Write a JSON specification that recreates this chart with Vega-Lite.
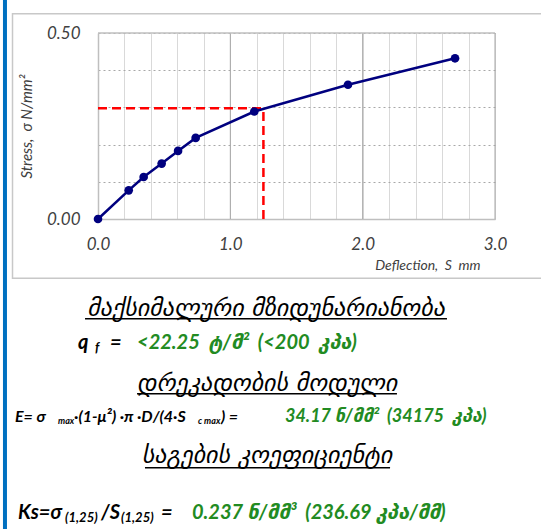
{
  "$schema": "https://vega.github.io/schema/vega-lite/v6.json",
  "width": 397,
  "height": 186,
  "autosize": {"type": "none"},
  "padding": {"left": 98, "top": 33, "right": 46, "bottom": 310},
  "background": "white",
  "config": {"view": {"stroke": null}, "font": "Lato"},
  "resolve": {"axis": {"x": "independent", "y": "independent"}},
  "datasets": {
    "curve": [
      {"deflection": 0, "stress": 0},
      {"deflection": 0.232, "stress": 0.077},
      {"deflection": 0.345, "stress": 0.113},
      {"deflection": 0.481, "stress": 0.149},
      {"deflection": 0.605, "stress": 0.183},
      {"deflection": 0.738, "stress": 0.218},
      {"deflection": 1.181, "stress": 0.289},
      {"deflection": 1.889, "stress": 0.361},
      {"deflection": 2.698, "stress": 0.432}
    ],
    "guides": [
      {"gx": 0, "gx2": 1.25, "gy": 0.298, "gy2": 0.298},
      {"gx": 1.25, "gx2": 1.25, "gy": 0, "gy2": 0.298}
    ],
    "majors": [{"mx": 1}, {"mx": 2}, {"mx": 3}],
    "tops": [{"my": 0.5}],
    "frame": [{"fx": -0.646, "fx2": 3.378, "fy": 0.552, "fy2": -0.159}],
    "edge": [{"ex": -0.703, "ey": 0.589, "ey2": -0.833}],
    "underlines": [
      {"ux": -0.098, "ux2": 2.637, "uy": -0.268},
      {"ux": 0.295, "ux2": 2.259, "uy": -0.47},
      {"ux": 0.355, "ux2": 2.207, "uy": -0.669}
    ],
    "texts": [
      {"role": "heading", "tx": 1.27, "ty": -0.241, "txt": "მაქსიმალური მზიდუნარიანობა"},
      {"role": "heading", "tx": 1.277, "ty": -0.443, "txt": "დრეკადობის მოდული"},
      {"role": "heading", "tx": 1.277, "ty": -0.636, "txt": "საგების კოეფიციენტი"},
      {"role": "black", "tx": -0.151, "ty": -0.333, "txt": "q"},
      {"role": "blacksub", "tx": -0.023, "ty": -0.346, "txt": "f"},
      {"role": "black", "tx": 0.091, "ty": -0.333, "txt": "="},
      {"role": "green", "tx": 0.295, "ty": -0.333, "txt": "<22.25\u00a0 ტ/მ²\u00a0 (<200\u00a0 კპა)"},
      {"role": "blacksmall", "tx": -0.627, "ty": -0.532, "txt": "E= σ"},
      {"role": "tinysub", "tx": -0.302, "ty": -0.543, "txt": "max"},
      {"role": "blacksmall", "tx": -0.181, "ty": -0.532, "txt": "·(1-μ²) ·π ·D/(4·S"},
      {"role": "tinysub", "tx": 0.756, "ty": -0.543, "txt": "c max"},
      {"role": "blacksmall", "tx": 0.929, "ty": -0.532, "txt": ") ="},
      {"role": "greensmall", "tx": 1.413, "ty": -0.532, "txt": "34.17 ნ/მმ²\u00a0 (34175\u00a0 კპა)"},
      {"role": "black", "tx": -0.605, "ty": -0.79, "txt": "Ks=σ"},
      {"role": "ksub", "tx": -0.249, "ty": -0.804, "txt": "(1,25)"},
      {"role": "black", "tx": 0.023, "ty": -0.79, "txt": "/S"},
      {"role": "ksub", "tx": 0.174, "ty": -0.804, "txt": "(1,25)"},
      {"role": "black", "tx": 0.476, "ty": -0.79, "txt": "="},
      {"role": "green", "tx": 0.71, "ty": -0.79, "txt": "0.237 ნ/მმ³\u00a0 (236.69 კპა/მმ)"}
    ]
  },
  "layer": [
    {
      "data": {"name": "frame"},
      "mark": {"type": "rect", "filled": false, "stroke": "#c8c8c8", "strokeWidth": 1.5},
      "encoding": {
        "x": {
          "field": "fx", "type": "quantitative",
          "scale": {"domain": [0, 3], "nice": false},
          "axis": {
            "title": "Deflection,\u00a0 S\u00a0 mm",
            "values": [0, 0.2, 0.4, 0.6, 0.8, 1, 1.2, 1.4, 1.6, 1.8, 2, 2.2, 2.4, 2.6, 2.8, 3],
            "labelExpr": "datum.value % 1 === 0 ? format(datum.value, '.1f') : ''",
            "labelOverlap": false,
            "labelFlush": false,
            "ticks": false,
            "domainColor": "#bfbfbf",
            "domainWidth": 1.5,
            "gridColor": "#d9d9d9",
            "gridWidth": 1,
            "labelFont": "Lato",
            "labelFontStyle": "italic",
            "labelFontSize": 17,
            "labelColor": "#404040",
            "labelPadding": 17,
            "titleFont": "Lato",
            "titleFontStyle": "italic",
            "titleFontWeight": "normal",
            "titleFontSize": 14,
            "titleColor": "#404040",
            "titleAnchor": "end",
            "titleAlign": "right",
            "titleX": 382,
            "titlePadding": 6
          }
        },
        "x2": {"field": "fx2"},
        "y": {
          "field": "fy", "type": "quantitative",
          "scale": {"domain": [0, 0.5], "nice": false},
          "axis": {
            "title": "Stress,\u00a0 σ N/mm²",
            "values": [0, 0.1, 0.2, 0.3, 0.4, 0.5],
            "labelExpr": "datum.value === 0 || datum.value === 0.5 ? format(datum.value, '.2f') : ''",
            "labelOverlap": false,
            "labelFlush": false,
            "ticks": false,
            "domainColor": "#bfbfbf",
            "domainWidth": 1.5,
            "gridColor": "#a8a8a8",
            "gridDash": [2, 3],
            "labelFont": "Lato",
            "labelFontStyle": "italic",
            "labelFontSize": 17,
            "labelColor": "#404040",
            "labelPadding": 18,
            "titleFont": "Lato",
            "titleFontStyle": "italic",
            "titleFontWeight": "normal",
            "titleFontSize": 15,
            "titleColor": "#404040",
            "titlePadding": 12
          }
        },
        "y2": {"field": "fy2"}
      }
    },
    {
      "data": {"name": "majors"},
      "mark": {"type": "rule", "color": "#a6a6a6", "strokeWidth": 1},
      "encoding": {
        "x": {"field": "mx", "type": "quantitative", "scale": {"domain": [0, 3], "nice": false}, "axis": null}
      }
    },
    {
      "data": {"name": "tops"},
      "mark": {"type": "rule", "color": "#bfbfbf", "strokeWidth": 1.5},
      "encoding": {
        "y": {"field": "my", "type": "quantitative", "scale": {"domain": [0, 0.5], "nice": false}, "axis": null}
      }
    },
    {
      "data": {"name": "edge"},
      "mark": {"type": "rule", "color": "#0070c0", "strokeWidth": 4},
      "encoding": {
        "x": {"field": "ex", "type": "quantitative", "scale": {"domain": [0, 3], "nice": false}, "axis": null},
        "y": {"field": "ey", "type": "quantitative", "scale": {"domain": [0, 0.5], "nice": false}, "axis": null},
        "y2": {"field": "ey2"}
      }
    },
    {
      "data": {"name": "guides"},
      "mark": {"type": "rule", "color": "#ff0000", "strokeWidth": 2.5, "strokeDash": [9, 5]},
      "encoding": {
        "x": {"field": "gx", "type": "quantitative", "scale": {"domain": [0, 3], "nice": false}, "axis": null},
        "x2": {"field": "gx2"},
        "y": {"field": "gy", "type": "quantitative", "scale": {"domain": [0, 0.5], "nice": false}, "axis": null},
        "y2": {"field": "gy2"}
      }
    },
    {
      "data": {"name": "curve"},
      "mark": {"type": "line", "color": "#00007f", "strokeWidth": 2.5, "point": {"filled": true, "size": 75, "color": "#00007f"}},
      "encoding": {
        "x": {"field": "deflection", "type": "quantitative", "scale": {"domain": [0, 3], "nice": false}, "axis": null},
        "y": {"field": "stress", "type": "quantitative", "scale": {"domain": [0, 0.5], "nice": false}, "axis": null}
      }
    },
    {
      "data": {"name": "underlines"},
      "mark": {"type": "rule", "color": "#000000", "strokeWidth": 1.5},
      "encoding": {
        "x": {"field": "ux", "type": "quantitative", "scale": {"domain": [0, 3], "nice": false}, "axis": null},
        "x2": {"field": "ux2"},
        "y": {"field": "uy", "type": "quantitative", "scale": {"domain": [0, 0.5], "nice": false}, "axis": null}
      }
    },
    {
      "data": {"name": "texts"},
      "transform": [{"filter": "datum.role === 'heading'"}],
      "mark": {"type": "text", "align": "center", "baseline": "middle", "font": "DejaVu Sans", "fontStyle": "italic", "fontSize": 24, "color": "#000000"},
      "encoding": {
        "x": {"field": "tx", "type": "quantitative", "scale": {"domain": [0, 3], "nice": false}, "axis": null},
        "y": {"field": "ty", "type": "quantitative", "scale": {"domain": [0, 0.5], "nice": false}, "axis": null},
        "text": {"field": "txt"}
      }
    },
    {
      "data": {"name": "texts"},
      "transform": [{"filter": "datum.role === 'black'"}],
      "mark": {"type": "text", "align": "left", "baseline": "middle", "font": "Lato", "fontStyle": "italic", "fontWeight": "bold", "fontSize": 20, "color": "#000000"},
      "encoding": {
        "x": {"field": "tx", "type": "quantitative", "scale": {"domain": [0, 3], "nice": false}, "axis": null},
        "y": {"field": "ty", "type": "quantitative", "scale": {"domain": [0, 0.5], "nice": false}, "axis": null},
        "text": {"field": "txt"}
      }
    },
    {
      "data": {"name": "texts"},
      "transform": [{"filter": "datum.role === 'blacksub'"}],
      "mark": {"type": "text", "align": "left", "baseline": "middle", "font": "Lato", "fontStyle": "italic", "fontWeight": "bold", "fontSize": 13, "color": "#000000"},
      "encoding": {
        "x": {"field": "tx", "type": "quantitative", "scale": {"domain": [0, 3], "nice": false}, "axis": null},
        "y": {"field": "ty", "type": "quantitative", "scale": {"domain": [0, 0.5], "nice": false}, "axis": null},
        "text": {"field": "txt"}
      }
    },
    {
      "data": {"name": "texts"},
      "transform": [{"filter": "datum.role === 'ksub'"}],
      "mark": {"type": "text", "align": "left", "baseline": "middle", "font": "Lato", "fontStyle": "italic", "fontWeight": "bold", "fontSize": 13, "color": "#000000"},
      "encoding": {
        "x": {"field": "tx", "type": "quantitative", "scale": {"domain": [0, 3], "nice": false}, "axis": null},
        "y": {"field": "ty", "type": "quantitative", "scale": {"domain": [0, 0.5], "nice": false}, "axis": null},
        "text": {"field": "txt"}
      }
    },
    {
      "data": {"name": "texts"},
      "transform": [{"filter": "datum.role === 'blacksmall'"}],
      "mark": {"type": "text", "align": "left", "baseline": "middle", "font": "Lato", "fontStyle": "italic", "fontWeight": "bold", "fontSize": 16, "color": "#000000"},
      "encoding": {
        "x": {"field": "tx", "type": "quantitative", "scale": {"domain": [0, 3], "nice": false}, "axis": null},
        "y": {"field": "ty", "type": "quantitative", "scale": {"domain": [0, 0.5], "nice": false}, "axis": null},
        "text": {"field": "txt"}
      }
    },
    {
      "data": {"name": "texts"},
      "transform": [{"filter": "datum.role === 'tinysub'"}],
      "mark": {"type": "text", "align": "left", "baseline": "middle", "font": "Lato", "fontStyle": "italic", "fontWeight": "bold", "fontSize": 9, "color": "#000000"},
      "encoding": {
        "x": {"field": "tx", "type": "quantitative", "scale": {"domain": [0, 3], "nice": false}, "axis": null},
        "y": {"field": "ty", "type": "quantitative", "scale": {"domain": [0, 0.5], "nice": false}, "axis": null},
        "text": {"field": "txt"}
      }
    },
    {
      "data": {"name": "texts"},
      "transform": [{"filter": "datum.role === 'green'"}],
      "mark": {"type": "text", "align": "left", "baseline": "middle", "font": "Lato, DejaVu Sans", "fontStyle": "italic", "fontWeight": "bold", "fontSize": 20, "color": "#228b22"},
      "encoding": {
        "x": {"field": "tx", "type": "quantitative", "scale": {"domain": [0, 3], "nice": false}, "axis": null},
        "y": {"field": "ty", "type": "quantitative", "scale": {"domain": [0, 0.5], "nice": false}, "axis": null},
        "text": {"field": "txt"}
      }
    },
    {
      "data": {"name": "texts"},
      "transform": [{"filter": "datum.role === 'greensmall'"}],
      "mark": {"type": "text", "align": "left", "baseline": "middle", "font": "Lato, DejaVu Sans", "fontStyle": "italic", "fontWeight": "bold", "fontSize": 18, "color": "#228b22"},
      "encoding": {
        "x": {"field": "tx", "type": "quantitative", "scale": {"domain": [0, 3], "nice": false}, "axis": null},
        "y": {"field": "ty", "type": "quantitative", "scale": {"domain": [0, 0.5], "nice": false}, "axis": null},
        "text": {"field": "txt"}
      }
    }
  ]
}
